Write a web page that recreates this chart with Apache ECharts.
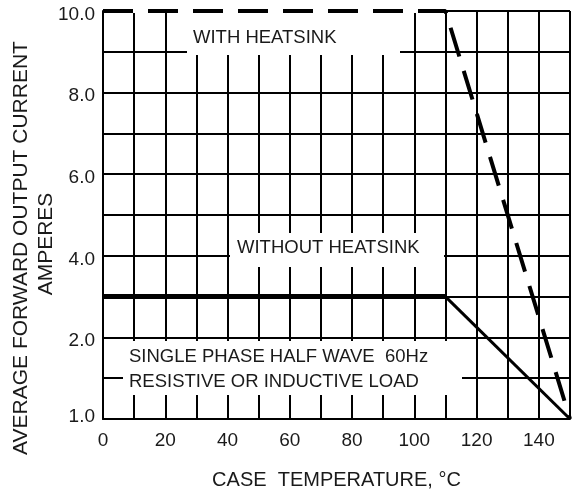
<!DOCTYPE html>
<html>
<head>
<meta charset="utf-8">
<script src="https://cdn.jsdelivr.net/npm/echarts@6/dist/echarts.min.js"></script>
<style>
html,body{margin:0;padding:0;background:#fff;}
#chart{width:573px;height:497px;}
</style>
</head>
<body>
<div id="chart"></div>
<script>
// ---- data ----
const heatsinkTemp = [0, 110, 150];
const heatsinkCurrent = [10, 10, 0];
const noHeatsinkTemp = [0, 110, 150];
const noHeatsinkCurrent = [3, 3, 0];
const yTickValues = [0, 2, 4, 6, 8, 10];
const yTickLabels = ['1.0', '2.0', '4.0', '6.0', '8.0', '10.0'];
const xTickLabels = ['0', '20', '40', '60', '80', '100', '120', '140'];
const xTitle = 'CASE  TEMPERATURE, \u00B0C';
const yTitle1 = 'AVERAGE FORWARD OUTPUT CURRENT';
const yTitle2 = 'AMPERES';
const notes = ['WITH HEATSINK', 'WITHOUT HEATSINK', 'SINGLE PHASE HALF WAVE  60Hz', 'RESISTIVE OR INDUCTIVE LOAD'];

const FONT = "'Liberation Sans', Arial, sans-serif";
const TXT = '#1a1a1a';

function pts(xs, ys, from, to) {
  const out = [];
  for (let i = from; i <= to; i++) out.push([xs[i], ys[i]]);
  return out;
}

const chart = echarts.init(document.getElementById('chart'), null, {renderer: 'canvas'});

function textEl(str, x, y, size) {
  return {type: 'text', z: 5, style: {text: str, x: x, y: y, fill: TXT, font: size + 'px ' + FONT, textVerticalAlign: 'middle', verticalAlign: 'middle'}};
}
function whiteRect(x, y, w, h) {
  return {type: 'rect', z: 4, shape: {x: x, y: y, width: w, height: h}, style: {fill: '#fff'}};
}

chart.setOption({
  animation: false,
  backgroundColor: '#fff',
  grid: {left: 103, right: 1, top: 11, bottom: 78, containLabel: false},
  xAxis: {
    type: 'value', min: 0, max: 150, interval: 10,
    name: xTitle, nameLocation: 'middle', nameGap: 51,
    nameTextStyle: {fontFamily: FONT, fontSize: 20, color: TXT},
    axisLine: {show: true, lineStyle: {color: '#000', width: 2}},
    axisTick: {show: false},
    splitLine: {show: true, lineStyle: {color: '#000', width: 2}},
    axisLabel: {
      fontFamily: FONT, fontSize: 19, color: TXT, margin: 12,
      formatter: function (v) { const s = String(v); return xTickLabels.indexOf(s) >= 0 ? s : ''; }
    }
  },
  yAxis: {
    type: 'value', min: 0, max: 10, interval: 1,
    axisLine: {show: true, lineStyle: {color: '#000', width: 2}},
    axisTick: {show: false},
    splitLine: {show: true, lineStyle: {color: '#000', width: 2}},
    axisLabel: {
      fontFamily: FONT, fontSize: 19, color: TXT, margin: 8,
      formatter: function (v) {
        const i = yTickValues.indexOf(v);
        if (i < 0) return '';
        return (v === 0 ? '{lo|' : '{hi|') + yTickLabels[i] + '}';
      },
      rich: {
        hi: {fontFamily: FONT, fontSize: 19, color: TXT, padding: [7, 0, 0, 0]},
        lo: {fontFamily: FONT, fontSize: 19, color: TXT, padding: [0, 0, 5, 0]}
      }
    }
  },
  graphic: [
    whiteRect(104, 8, 340, 5),
    whiteRect(187, 13, 213, 42),
    whiteRect(230, 233, 214, 34),
    whiteRect(123, 341, 339, 54),
    textEl(notes[0], 193, 38, 18.5),
    textEl(notes[1], 237, 248, 18.5),
    textEl(notes[2], 129, 357, 18.5),
    textEl(notes[3], 129, 382, 18.5),
    {type: 'text', z: 5, x: 21, y: 248, rotation: Math.PI / 2,
      style: {text: yTitle1, fill: TXT, font: '21px ' + FONT, align: 'center', verticalAlign: 'middle'}},
    {type: 'text', z: 5, x: 46, y: 244, rotation: Math.PI / 2,
      style: {text: yTitle2, fill: TXT, font: '21px ' + FONT, align: 'center', verticalAlign: 'middle'}}
  ],
  series: [
    {
      type: 'line', name: 'With heatsink', z: 10, clip: false, symbol: 'none',
      data: pts(heatsinkTemp, heatsinkCurrent, 0, heatsinkTemp.length - 1),
      lineStyle: {color: '#000', width: 4, type: [30, 15], cap: 'butt'}
    },
    {
      type: 'line', name: 'Without heatsink flat', z: 10, clip: false, symbol: 'none',
      data: pts(noHeatsinkTemp, noHeatsinkCurrent, 0, 1),
      lineStyle: {color: '#000', width: 5}
    },
    {
      type: 'line', name: 'Without heatsink derating', z: 10, clip: false, symbol: 'none',
      data: pts(noHeatsinkTemp, noHeatsinkCurrent, 1, 2),
      lineStyle: {color: '#000', width: 3}
    }
  ]
});
</script>
</body>
</html>
